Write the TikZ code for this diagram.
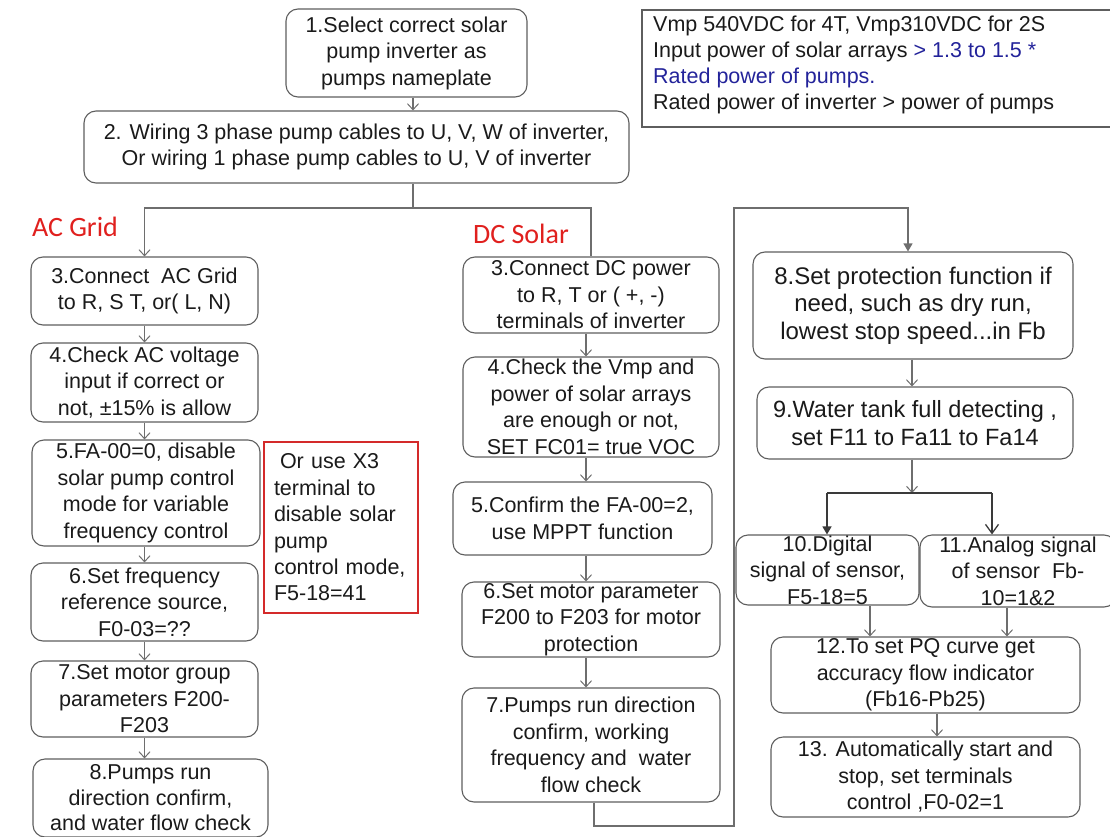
\documentclass[tikz,border=0pt]{standalone}
\usepackage{fontspec}
\setmainfont{Liberation Sans}
\newfontfamily\calib{Carlito}
\usetikzlibrary{arrows.meta}
\definecolor{boxgray}{HTML}{5E5E5E}
\definecolor{linegray}{HTML}{6E6E6E}
\definecolor{darkline}{HTML}{3A3A3A}
\definecolor{redtxt}{HTML}{E0201E}
\definecolor{redbox}{HTML}{D42A2A}
\definecolor{bluetxt}{HTML}{23239A}
\definecolor{txt}{HTML}{1A1A1A}
\begin{document}
\begin{tikzpicture}[x=1pt,y=-1pt,
  box/.style={draw=boxgray, line width=1.1pt, rounded corners=12pt, align=center,
    inner sep=0pt, text=txt, font=\fontsize{21.5}{26.5}\selectfont},
  conn/.style={draw=linegray, line width=1.1pt},
  conndark/.style={draw=darkline, line width=1.3pt},
  openarrow/.style={-{Straight Barb[length=6pt,width=11pt,line width=1pt]}},
  bigopen/.style={-{Straight Barb[length=9pt,width=13pt,line width=1.3pt]}},
  filledarrow/.style={-{Triangle[length=8pt,width=9pt]}},
  label/.style={text=redtxt, font=\calib\fontsize{28}{32}\selectfont, inner sep=0pt}]
\useasboundingbox (0,0) rectangle (1110,837);
\clip (0,0) rectangle (1110,837);

% info box
\draw[draw=boxgray, line width=1.2pt] (642,10) rectangle (1120,127);
\node[anchor=west, align=left, inner sep=0pt, text=txt,
  font=\fontsize{21.5}{26.3}\selectfont] (info) at (653,65)
  {Vmp 540VDC for 4T, Vmp310VDC for 2S\\
   Input power of solar arrays \textcolor{bluetxt}{> 1.3 to 1.5 *}\\
   \textcolor{bluetxt}{Rated power of pumps.}\\
   Rated power of inverter > power of pumps};

% top
\node[box, minimum width=241pt, minimum height=88pt] (b1) at (406.5,53)
  {1.Select correct solar\\pump inverter as\\pumps nameplate};
\node[box, minimum width=545pt, minimum height=72pt] (b2) at (356.5,147)
  {2. Wiring 3 phase pump cables to U, V, W of inverter,\\Or wiring 1 phase pump cables to U, V of inverter};

\node[label] (acl) at (75,227) {AC Grid};
\node[label] (dcl) at (521,234) {DC Solar};

% AC column
\node[box, minimum width=227pt, minimum height=68pt] (ac3) at (144.5,291)
  {3.Connect \ AC Grid\\to R, S T, or( L, N)};
\node[box, minimum width=227pt, minimum height=79pt] (ac4) at (144.5,382.5)
  {4.Check AC voltage\\input if correct or\\not, ±15\% is allow};
\node[box, minimum width=228pt, minimum height=106pt] (ac5) at (146,493)
  {5.FA-00=0, disable\\solar pump control\\mode for variable\\frequency control};
\node[box, minimum width=227pt, minimum height=78pt] (ac6) at (144.5,602)
  {6.Set frequency\\reference source,\\F0-03=??};
\node[box, minimum width=227pt, minimum height=76pt] (ac7) at (144.5,699)
  {7.Set motor group\\parameters F200-\\F203};
\node[box, minimum width=235pt, minimum height=78pt, font=\fontsize{21.5}{25.5}\selectfont]
  (ac8) at (150.5,798)
  {8.Pumps run\\direction confirm,\\and water flow check};
\node[draw=redbox, line width=1.3pt, text width=134pt, inner xsep=10pt, inner ysep=0pt,
  minimum height=171pt, align=left, text=txt, font=\fontsize{21.5}{26.4}\selectfont]
  (note) at (341,527.5)
  {\hspace*{6pt}Or use X3\\terminal to\\disable solar\\pump\\control mode,\\F5-18=41};

% DC column
\node[box, minimum width=256pt, minimum height=76pt] (dc3) at (591,295)
  {3.Connect DC power\\to R, T or ( +, -)\\terminals of inverter};
\node[box, minimum width=256pt, minimum height=100pt] (dc4) at (591,407)
  {4.Check the Vmp and\\power of solar arrays\\are enough or not,\\SET FC01= true VOC};
\node[box, minimum width=259pt, minimum height=73pt] (dc5) at (582.5,518.5)
  {5.Confirm the FA-00=2,\\use MPPT function};
\node[box, minimum width=258pt, minimum height=75pt] (dc6) at (591,619.5)
  {6.Set motor parameter\\F200 to F203 for motor\\protection};
\node[box, minimum width=258pt, minimum height=114pt] (dc7) at (591,745)
  {7.Pumps run direction\\confirm, working\\frequency and \ water\\flow check};

% right column
\node[box, minimum width=320pt, minimum height=107pt,
  font=\fontsize{24}{27.5}\selectfont] (r8) at (913,305.5)
  {8.Set protection function if\\need, such as dry run,\\lowest stop speed...in Fb};
\node[box, minimum width=316pt, minimum height=72pt,
  font=\fontsize{23.5}{27.5}\selectfont] (r9) at (915,423)
  {9.Water tank full detecting ,\\set F11 to Fa11 to Fa14};
\node[box, minimum width=183pt, minimum height=70pt] (r10) at (827.5,570)
  {10.Digital\\signal of sensor,\\F5-18=5};
\node[box, minimum width=196pt, minimum height=72pt] (r11) at (1018,571)
  {11.Analog signal\\of sensor \ Fb-\\10=1\&2};
\node[box, minimum width=309pt, minimum height=76pt] (r12) at (925.5,675)
  {12.To set PQ curve get\\accuracy flow indicator\\(Fb16-Pb25)};
\node[box, minimum width=309pt, minimum height=80pt] (r13) at (925.5,777)
  {13. Automatically start and\\stop, set terminals\\control ,F0-02=1};

% helper coordinates
\coordinate (x413) at (413,0);
\coordinate (j1) at (413,208);
\coordinate (dcx) at (586,0);
\coordinate (loopa) at (594,826);
\coordinate (loopb) at (734,208);
\coordinate (r8x) at (908,0);
\coordinate (rx) at (912,0);
\coordinate (jc) at (912,493);
\coordinate (jl) at (827,493);
\coordinate (jr) at (992,493);
\coordinate (c870) at (870,0);
\coordinate (c1007) at (1007,0);
\coordinate (c937) at (937,0);

% connectors top
\draw[conn,openarrow] (b1.south -| x413) -- (b2.north -| x413);
\draw[conn] (b2.south -| j1) -- (j1);
\draw[conn,openarrow] (j1) -| (ac3.north);
\draw[conn] (j1) -| (dc3.north);

% AC connectors
\draw[conn,openarrow] (ac3.south) -- (ac4.north);
\draw[conn,openarrow] (ac4.south) -- (ac4.south |- ac5.north);
\draw[conn,openarrow] (ac5.south -| ac4.south) -- (ac6.north);
\draw[conn,openarrow] (ac6.south) -- (ac7.north);
\draw[conn,openarrow] (ac7.south) -- (ac7.south |- ac8.north);

% DC connectors
\draw[conn,openarrow] (dc3.south -| dcx) -- (dc4.north -| dcx);
\draw[conn,openarrow] (dc4.south -| dcx) -- (dc5.north -| dcx);
\draw[conn,openarrow] (dc5.south -| dcx) -- (dc6.north -| dcx);
\draw[conn,openarrow] (dc6.south -| dcx) -- (dc7.north -| dcx);
\draw[conn,filledarrow] (dc7.south -| loopa) -- (loopa) -| (loopb) -| (r8.north -| r8x);

% right connectors
\draw[conn,openarrow] (r8.south -| rx) -- (r9.north -| rx);
\draw[conn,openarrow] (r9.south -| rx) -- (jc);
\draw[conndark] (jl) -- (jr);
\draw[conndark,filledarrow] (jl) -- (jl |- r10.north);
\draw[conndark,bigopen] (jr) -- (jr |- r11.north);
\draw[conn,openarrow] (r10.south -| c870) -- (r12.north -| c870);
\draw[conn,openarrow] (r11.south -| c1007) -- (r12.north -| c1007);
\draw[conn,openarrow] (r12.south -| c937) -- (r13.north -| c937);
\end{tikzpicture}
\end{document}
